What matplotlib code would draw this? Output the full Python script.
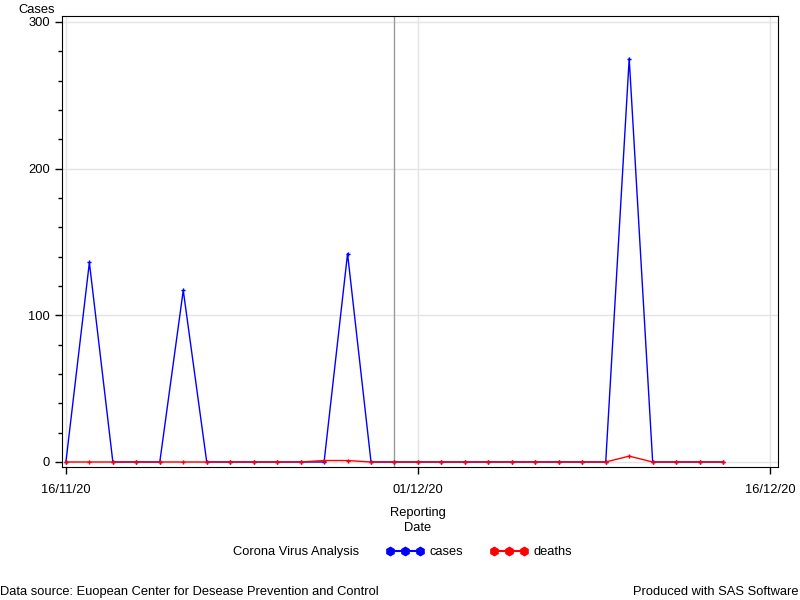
import matplotlib
matplotlib.use("Agg")
import matplotlib.pyplot as plt
import matplotlib.dates as mdates
from matplotlib.lines import Line2D
from matplotlib.ticker import MultipleLocator
import pandas as pd

plt.rcParams['font.family'] = ['Liberation Sans', 'DejaVu Sans']

## daily values, 16/11/20 .. 14/12/20
dates = pd.date_range('2020-11-16', '2020-12-14', freq='D')
cases = [0, 136, 0, 0, 0, 117, 0, 0, 0, 0, 0, 0, 142, 0, 0,
         0, 0, 0, 0, 0, 0, 0, 0, 0, 275, 0, 0, 0, 0]
deaths = [0, 0, 0, 0, 0, 0, 0, 0, 0, 0, 0, 1, 1, 0, 0,
          0, 0, 0, 0, 0, 0, 0, 0, 0, 4, 0, 0, 0, 0]
ref_date = pd.Timestamp('2020-11-30')
xtick_dates = pd.to_datetime(['2020-11-16', '2020-12-01', '2020-12-16'])
yticks = [0, 100, 200, 300]

fs = 9.3
fig = plt.figure(figsize=(8, 6), dpi=100)
ax = fig.add_axes([0.0775, 0.2217, 0.895, 0.7516])

## grid + reference line
for y in yticks:
    ax.axhline(y, color='#e4e4e4', lw=1, zorder=0)
for d in xtick_dates:
    ax.axvline(d, color='#e4e4e4', lw=1, zorder=0)
ax.axvline(ref_date, color='#9a9a9a', lw=1, zorder=1)

ax.plot(dates, cases, color='blue', lw=1, marker='P', ms=3, mew=0, zorder=2)
ax.plot(dates, deaths, color='red', lw=1, marker='P', ms=3, mew=0, zorder=3)

ax.set_xlim(pd.Timestamp('2020-11-16') - pd.Timedelta(hours=4),
            pd.Timestamp('2020-11-16') + pd.Timedelta(days=30.34))
ax.set_ylim(-3.4, 304)
ax.set_xticks(xtick_dates)
ax.xaxis.set_major_formatter(mdates.DateFormatter('%d/%m/%y'))
ax.set_yticks(yticks)
ax.yaxis.set_minor_locator(MultipleLocator(20))
ax.tick_params(axis='both', direction='out', length=5, width=1, labelsize=fs, color='black')
ax.tick_params(axis='y', which='minor', direction='out', length=3, width=1)
ax.tick_params(axis='x', pad=7)

fig.text(0.0225, 0.983, 'Cases', fontsize=fs, ha='left', va='center')
fig.text(0.5225, 0.132, 'Reporting\nDate', fontsize=fs, ha='center', va='center', linespacing=1.35)

## legend
fig.text(0.291, 0.08, 'Corona Virus Analysis', fontsize=fs, ha='left', va='center')
handles = [Line2D([], [], color='blue', marker='h', ms=6, lw=1.5),
           Line2D([], [], color='red', marker='h', ms=6, lw=1.5)]
fig.legend(handles, ['cases', 'deaths'], loc='center left', bbox_to_anchor=(0.468, 0.08),
           ncol=2, frameon=False, numpoints=3, fontsize=fs, handlelength=2.9,
           handletextpad=0.45, columnspacing=2.1)

fig.text(0.0, 0.013, 'Data source: Euopean Center for Desease Prevention and Control',
         fontsize=fs, ha='left', va='center')
fig.text(0.998, 0.013, 'Produced with SAS Software', fontsize=fs, ha='right', va='center')

fig.savefig('out.png', dpi=100)
